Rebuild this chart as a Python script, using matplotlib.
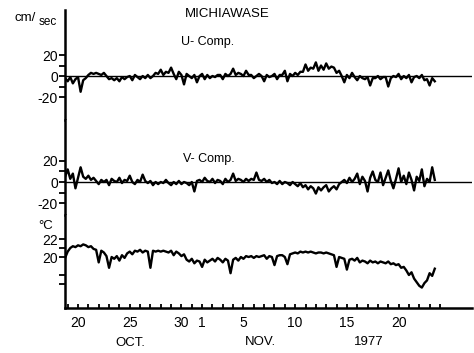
import numpy as np
import matplotlib
matplotlib.use("Agg")
import matplotlib.pyplot as plt

plt.rcParams['font.family'] = ['Liberation Sans', 'DejaVu Sans']

# time axis: day number counted from Oct 0 (Nov 1 = 32), 6-hourly samples
t_start = 18.75
t_step = 0.25

# U component (cm/sec), one row per day, 4 samples each
u_comp = [
    -2, -5, -1, -7,
    -3, -1, -15, -4,
    -2, 1, 3, 2,
    3, 2, 1, 3,
    0, -3, -2, -4,
    -2, -5, -1, -3,
    -1, 0, -4, 1,
    -1, -3, 0, -2,
    1, -2, 0, 3,
    2, 6, 1, 4,
    3, 8, 2, -3,
    4, 1, -8, 2,
    0, -2, 1, -6,
    0, 2, -3, 1,
    -2, 0, -1, 1,
    1, -3, 2, 0,
    2, 7, 1, 3,
    2, 0, 5, 1,
    1, -2, 0, 2,
    0, -5, 1, -1,
    0, 2, -3, 1,
    1, 5, -5, 2,
    0, 3, 1, 4,
    4, 11, 5, 8,
    7, 13, 5, 10,
    6, 12, 7, 9,
    8, 3, 5, 0,
    -6, 1, -2, 3,
    -1, -4, 0, -2,
    -3, -1, -9, -2,
    -2, 0, -3, -1,
    -1, -10, -2, 0,
    -1, 2, -3, 0,
    -2, 1, -6, -1,
    0, -2, 1, -4,
    -3, -9, -2, -5,
]

# V component (cm/sec)
v_comp = [
    5, 12, 3, 8,
    -6, 4, 14, 5,
    3, 6, 2, 4,
    1, -2, 2, 0,
    2, -3, 3, 1,
    0, 4, -1, 2,
    1, 6, 0, -2,
    2, 0, 7, 1,
    -1, 1, -3, 0,
    -2, 0, -1, 2,
    -1, -3, 0, -2,
    1, -2, 0, -1,
    -3, 0, -9, 1,
    2, 0, 4, 1,
    0, 3, -1, 2,
    1, -2, 3, 0,
    2, 8, 1, 3,
    2, 0, 3, 1,
    3, 2, 9, 2,
    1, 3, 0, 2,
    -1, 0, -2, 1,
    -2, 0, -1, -3,
    0, -2, -4, -1,
    -5, -3, -7, -4,
    -6, -11, -5, -8,
    -5, -3, -9, -6,
    -4, -7, -2, 0,
    2, -1, 4, 0,
    3, 8, -2, 5,
    1, -9, 4, 10,
    2, 0, 9, -3,
    4, 11, 1, -6,
    3, 13, 0, 6,
    -2, 9, 2, -8,
    5, 1, 12, -4,
    3, 0, 14, 2,
]

# temperature (deg C)
temp = [
    19.9, 20.6, 21.0, 21.2,
    21.1, 21.3, 21.2, 21.4,
    21.3, 21.1, 21.2, 20.9,
    20.8, 19.4, 20.7, 20.5,
    20.1, 18.8, 20.0, 19.8,
    20.1, 19.6, 20.2, 19.9,
    20.4, 20.6, 20.3, 20.7,
    20.6, 20.8, 20.5, 20.7,
    20.6, 18.8, 20.7, 20.6,
    20.7, 20.6, 20.7, 20.6,
    20.5, 20.7, 20.2, 20.6,
    20.4, 20.1, 20.3, 19.7,
    19.5, 19.8, 19.3, 19.6,
    19.5, 18.9, 19.7, 19.4,
    19.6, 19.8, 19.5, 19.9,
    19.7, 19.4, 19.8, 19.6,
    18.2, 19.7, 19.9, 19.6,
    20.0, 19.8, 20.1, 20.0,
    20.1, 19.9, 20.1, 20.0,
    20.1, 20.2, 19.8, 20.1,
    20.0, 19.1, 20.1, 20.2,
    20.2, 20.0, 19.2, 20.3,
    20.4, 20.5, 20.4, 20.6,
    20.5, 20.6, 20.5, 20.6,
    20.5, 20.4, 20.5, 20.5,
    20.4, 20.5, 20.4, 20.3,
    20.2, 18.9, 20.0, 19.9,
    19.8, 18.6, 19.7, 19.8,
    19.6, 19.9, 19.4, 19.6,
    19.5, 19.3, 19.6, 19.4,
    19.5, 19.3, 19.5, 19.4,
    19.3, 19.5, 19.2, 19.3,
    19.1, 19.2, 18.8, 18.9,
    18.5, 18.0, 18.3, 17.6,
    17.2, 16.8, 16.6, 17.1,
    17.4, 18.2, 17.9, 18.7,
]

day_ticks = [20, 25, 30, 32, 36, 41, 46, 51]
day_labels = ['20', '25', '30', '1', '5', '10', '15', '20']

t = t_start + t_step * np.arange(len(temp))

W, H = 474, 353
fig = plt.figure(figsize=(W / 100, H / 100), dpi=100)


def box(top, bottom):
    return [65 / W, 1 - bottom / H, (472 - 65) / W, (bottom - top) / H]


ax_u = fig.add_axes(box(10, 120))
ax_v = fig.add_axes(box(120, 215))
ax_t = fig.add_axes(box(215, 308))

xlim = (18.74, 58.1)

for ax in (ax_u, ax_v, ax_t):
    ax.set_xlim(*xlim)
    for s in ('top', 'right'):
        ax.spines[s].set_visible(False)
    ax.spines['left'].set_linewidth(1.8)
    ax.tick_params(axis='y', direction='out', length=4, width=1.3,
                   labelsize=10, pad=1)

for ax in (ax_u, ax_v):
    ax.spines['bottom'].set_visible(False)
    ax.tick_params(axis='x', bottom=False, labelbottom=False)
    ax.axhline(0, color='black', lw=1.0, zorder=1)
    ax.set_yticks([20, 10, 0, -10, -20])
    ax.set_yticklabels(['20', '', '0', '', '-20'])

ax_u.plot(t, u_comp, color='black', lw=1.7)
ax_u.set_ylim(-41.9, 62.9)

ax_v.plot(t, v_comp, color='black', lw=1.7)
ax_v.set_ylim(-31.4, 59.0)

ax_t.plot(t, temp, color='black', lw=1.7)
ax_t.set_ylim(14.33, 24.67)
ax_t.set_yticks([22, 21, 20, 18, 17])
ax_t.set_yticklabels(['22', '', '20', '', ''])
ax_t.spines['bottom'].set_linewidth(1.8)
ax_t.set_xticks(np.arange(19, 56), minor=True)
ax_t.set_xticks(day_ticks)
ax_t.set_xticklabels(day_labels)
ax_t.tick_params(axis='x', which='both', direction='in', length=3, width=1.3,
                 labelsize=10, pad=6)


def ftext(x, y, s, size=9.5, **kw):
    fig.text(x / W, 1 - y / H, s, fontsize=size, ha='center', va='center', **kw)


ftext(25, 18, 'cm/', size=9.5)
ftext(48, 22, 'sec', size=8.5)
ftext(227, 14, 'MICHIAWASE', size=9.5)
ftext(208, 42, 'U- Comp.', size=9)
ftext(209, 159, 'V- Comp.', size=9)
ftext(46, 226, '\u00b0C', size=9.5)
ftext(130, 343, 'OCT.', size=9.5)
ftext(260, 342, 'NOV.', size=9.5)
ftext(369, 342, '1977', size=9.5)

fig.savefig('out.png', dpi=100)
